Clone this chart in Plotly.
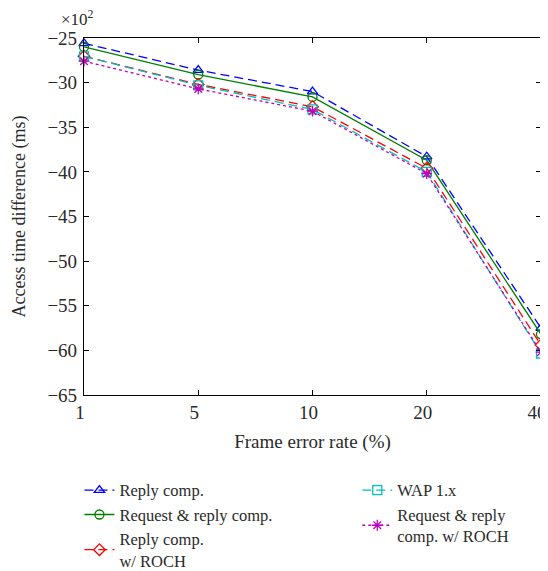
import plotly.graph_objects as go

fer = ["1", "5", "10", "20", "40"]
reply = [-25.6, -28.6, -31.0, -38.3, -57.5]
req_reply = [-26.0, -29.1, -31.6, -38.7, -58.2]
reply_roch = [-27.05, -30.2, -32.7, -39.6, -59.4]
wap = [-27.05, -30.3, -33.0, -40.0, -60.35]
req_reply_roch = [-27.6, -30.7, -33.2, -40.2, -60.2]

names = ["Reply comp.", "Request & reply comp.", "Reply comp.<br>w/ ROCH",
         "WAP 1.x", "Request & reply<br>comp. w/ ROCH"]
series = [reply, req_reply, reply_roch, wap, req_reply_roch]
colors = ["#0000ff", "#007f00", "#ff0000", "#00bfbf", "#bf00bf"]
dashes = ["9px,5px", "solid", "9px,5px", "9px,5px", "dot"]
symbols = ["triangle-up-open", "circle-open", "diamond-open", "square-open", "asterisk-open"]
legends = ["legend", "legend", "legend", "legend2", "legend2"]

FONT = "Liberation Serif"
FS = 19
LFS = 16.5
TXT = "#2a2a2a"
fig = go.Figure()
for n, s, c, d, m, lg in zip(names, series, colors, dashes, symbols, legends):
    fig.add_trace(go.Scatter(
        x=fer, y=s, name=n, mode="lines+markers",
        line=dict(color=c, dash=d, width=1.3),
        marker=dict(symbol=m, size=9, color=c, line=dict(color=c, width=1.3)),
        cliponaxis=False, legend=lg))

axis_common = dict(showline=True, linecolor="black", linewidth=1.2, mirror="ticks",
                   ticks="inside", ticklen=5, tickcolor="black", showgrid=False,
                   zeroline=False, tickfont=dict(family=FONT, size=FS, color=TXT))

# page body has an 8px margin, so the figure is sized to fit inside the window
fig.update_layout(
    width=540, height=563,
    margin=dict(l=76, r=7, t=30, b=176, autoexpand=False),
    plot_bgcolor="white", paper_bgcolor="white",
    font=dict(family=FONT, size=FS, color=TXT),
    xaxis=dict(type="category", range=[0, 4], ticklabeloverflow="allow", ticklabelshift=-4,
               **axis_common,
               title=dict(text="Frame error rate (%)", font=dict(family=FONT, size=FS, color=TXT), standoff=12)),
    yaxis=dict(range=[-65, -25], dtick=5, ticklabelstandoff=2, **axis_common,
               title=dict(text="Access time difference (ms)", font=dict(family=FONT, size=18, color=TXT), standoff=17)),
    legend=dict(x=-0.01, y=-0.218, xanchor="left", yanchor="top", maxheight=300,
                font=dict(family=FONT, size=LFS, color=TXT), bgcolor="rgba(0,0,0,0)",
                tracegroupgap=0, itemwidth=30),
    legend2=dict(x=0.598, y=-0.218, xanchor="left", yanchor="top", maxheight=300,
                 font=dict(family=FONT, size=LFS, color=TXT), bgcolor="rgba(0,0,0,0)",
                 tracegroupgap=0, itemwidth=30),
    annotations=[dict(text="×10<sup>2</sup>", xref="paper", yref="paper", x=-0.055, y=1.055,
                      xanchor="left", yanchor="middle", showarrow=False,
                      font=dict(family=FONT, size=17, color=TXT))],
)

fig.write_html("out.html")
